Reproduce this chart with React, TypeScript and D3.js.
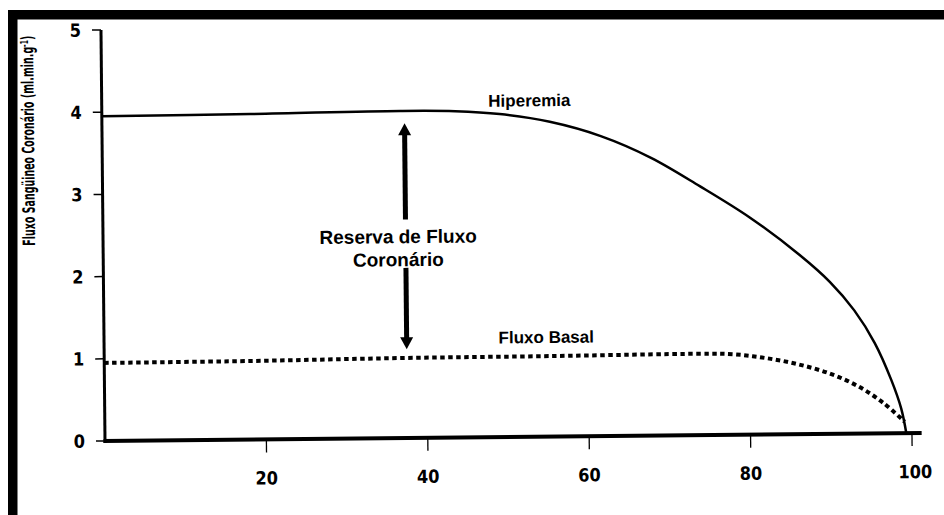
import React, { useLayoutEffect, useRef, useState } from "react";
import * as d3 from "d3";

// Data
const hiperemiaX = [0, 18.4, 37, 43.8, 49.3, 55.5, 61.8, 68, 74, 80.2, 86.3, 90, 93, 95.5, 97.5, 98.7, 99.3];
const hiperemiaY = [3.95, 3.96, 3.98, 3.97, 3.93, 3.83, 3.65, 3.38, 3.03, 2.64, 2.18, 1.85, 1.5, 1.1, 0.65, 0.3, 0.0];
const basalX = [0, 18.1, 36.7, 55.2, 73.8, 78, 82, 86, 90, 93.5, 96.5, 99.1];
const basalY = [0.95, 0.956, 0.974, 0.98, 0.99, 0.98, 0.93, 0.85, 0.73, 0.57, 0.37, 0.14];
const xTicks = [20, 40, 60, 80, 100];
const yTicks = [0, 1, 2, 3, 4, 5];
const arrowX = 37.5;
const arrowTop = 3.83;
const arrowBottom = 1.08;
const arrowGapTop = 2.66;
const arrowGapBottom = 2.07;
const reserveLines = ["Reserva de Fluxo", "Coronário"];
const seriesLabels = [
  { text: "Hiperemia", x: 53, y: 4.02 },
  { text: "Fluxo Basal", x: 54.8, y: 1.14 },
];

const W = 944;
const H = 515;
const X0 = 105;
const X1 = 912;
const Y0 = 441;
const Y5 = 30;
const TITLE_LEN = 210;

export default function App() {
  const titleRef = useRef<SVGTextElement | null>(null);
  const [sx, setSx] = useState(0.7);
  useLayoutEffect(() => {
    const el = titleRef.current;
    if (el) {
      const len = el.getComputedTextLength();
      if (len > 0) setSx(TITLE_LEN / len);
    }
  }, []);

  const x = d3.scaleLinear().domain([0, 100]).range([X0, X1]);
  const y = d3.scaleLinear().domain([0, 5]).range([Y0, Y5]);
  const line = d3
    .line<[number, number]>()
    .x((d) => x(d[0]))
    .y((d) => y(d[1]))
    .curve(d3.curveCatmullRom.alpha(0.5));
  const hip = line(hiperemiaX.map((v, i) => [v, hiperemiaY[i]]) as [number, number][]) || "";
  const bas = line(basalX.map((v, i) => [v, basalY[i]]) as [number, number][]) || "";

  const ax = x(arrowX);
  const narrow = "'Liberation Sans Narrow', 'DejaVu Sans Condensed', 'Arial Narrow', sans-serif";
  const sans = "'Liberation Sans', Arial, sans-serif";
  const head = 12;
  const headW = 6.5;
  const mid = y((arrowGapTop + arrowGapBottom) / 2);

  return (
    <svg
      width={W}
      height={H}
      style={{ position: "absolute", left: 0, top: 0, background: "#fff" }}
    >
      <rect x={0} y={0} width={W} height={H} fill="#fff" />
      <g transform={`rotate(-0.56 ${X0} ${Y0})`}>
        {/* y axis */}
        <line x1={X0} x2={X0} y1={y(5)} y2={Y0 + 2} stroke="#000" strokeWidth={3} />
        {yTicks.map((t) => (
          <g key={"y" + t}>
            <line x1={X0 - 9} x2={X0} y1={y(t)} y2={y(t)} stroke="#000" strokeWidth={1.5} />
            <text
              x={X0 - 20}
              y={y(t)}
              dy="0.36em"
              textAnchor="end"
              fontFamily={narrow}
              fontWeight="bold"
              fontSize={18}
            >
              {t}
            </text>
          </g>
        ))}
        {/* x axis */}
        <line x1={X0 - 1.5} x2={x(101.2)} y1={Y0} y2={Y0} stroke="#000" strokeWidth={4} />
        {xTicks.map((t) => (
          <g key={"x" + t}>
            <line x1={x(t)} x2={x(t)} y1={Y0} y2={Y0 + 13} stroke="#000" strokeWidth={1.3} />
            <text
              x={x(t) + (t === 100 ? 3 : 0)}
              y={Y0 + 45}
              textAnchor="middle"
              fontFamily={narrow}
              fontWeight="bold"
              fontSize={18}
            >
              {t}
            </text>
          </g>
        ))}
        {/* y axis title */}
        <text
          ref={titleRef}
          transform={`translate(31, ${140}) rotate(-90) scale(${sx}, 1)`}
          textAnchor="middle"
          dy="0.35em"
          fontFamily={narrow}
          fontWeight="bold"
          fontSize={17}
        >
          Fluxo Sangüineo Coronário (ml.min.g
          <tspan dy="-5" fontSize={11}>-1</tspan>
          <tspan dy="5">)</tspan>
        </text>
        {/* curves */}
        <path d={hip} fill="none" stroke="#000" strokeWidth={2.5} />
        <path d={bas} fill="none" stroke="#000" strokeWidth={4} strokeDasharray="4.5 3.5" />
        {/* double arrow */}
        <line x1={ax} x2={ax} y1={y(arrowTop) + head - 1} y2={y(arrowGapTop)} stroke="#000" strokeWidth={5} />
        <line x1={ax} x2={ax} y1={y(arrowGapBottom)} y2={y(arrowBottom) - head + 1} stroke="#000" strokeWidth={5} />
        <path
          d={`M${ax},${y(arrowTop)} L${ax - headW},${y(arrowTop) + head} L${ax + headW},${y(arrowTop) + head} Z`}
          fill="#000"
        />
        <path
          d={`M${ax},${y(arrowBottom)} L${ax - headW},${y(arrowBottom) - head} L${ax + headW},${y(arrowBottom) - head} Z`}
          fill="#000"
        />
        {reserveLines.map((s, i) => (
          <text
            key={s}
            x={ax - 7.5}
            y={mid + (i === 0 ? -0.5 : 22.5)}
            textAnchor="middle"
            fontFamily={sans}
            fontWeight="bold"
            fontSize={19}
          >
            {s}
          </text>
        ))}
        {seriesLabels.map((l) => (
          <text
            key={l.text}
            x={x(l.x)}
            y={y(l.y)}
            textAnchor="middle"
            fontFamily={sans}
            fontWeight="bold"
            fontSize={17}
          >
            {l.text}
          </text>
        ))}
      </g>
      {/* scan border */}
      <rect x={8} y={10} width={W - 8} height={9.5} fill="#000" />
      <rect x={8} y={10} width={9.5} height={H - 10} fill="#000" />
    </svg>
  );
}
